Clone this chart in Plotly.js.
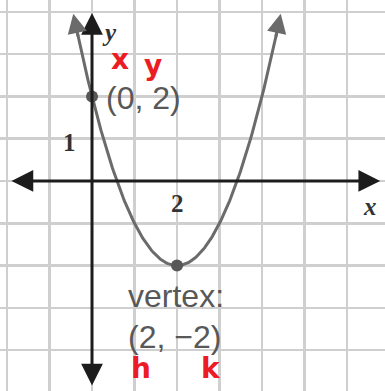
<!DOCTYPE html>
<html>
<head>
<meta charset="utf-8">
<script src="https://cdn.plot.ly/plotly-3.0.1.min.js"></script>
<style>
  html, body { margin: 0; padding: 0; background: #fff; }
  #chart { width: 385px; height: 391px; }
</style>
</head>
<body>
<div id="chart"></div>
<script>
// Parabola in vertex form y = a(x - h)^2 + k, given by its vertex and the y-intercept
const vertex = [2, -2];          // (h, k)
const yIntercept = [0, 2];       // (0, 2)
const curveEnds = [-0.44, 4.44]; // x where the arrowed ends of the curve stop
const tickValues = [1, 2];       // y tick "1", x tick "2"

// Visible extent of the grid / axes
const xRange = [-2.165, 6.894];
const yRange = [-4.965, 4.279];
const gridStart = [-2, 4];       // grid begins at x = -2 and ends at y = 4
const xAxisEnds = [-1.93, 6.78];
const yAxisEnds = [-4.87, 3.97];

const h = vertex[0], k = vertex[1];
const a = (yIntercept[1] - k) / Math.pow(yIntercept[0] - h, 2);
const f = x => a * (x - h) * (x - h) + k;

// sample the curve, leaving a little room for the arrowheads at both ends
const inset = 0.06;
const xs = [], ys = [];
const n = 200;
for (let i = 0; i <= n; i++) {
  const x = (curveEnds[0] + inset) + (curveEnds[1] - curveEnds[0] - 2 * inset) * i / n;
  xs.push(x);
  ys.push(f(x));
}

const curveColor = '#6b6b6b';
const axisColor = '#1c1c1c';
const grayText = '#585858';
const red = '#ec1c24';

const traces = [
  {
    x: xs, y: ys, type: 'scatter', mode: 'lines',
    line: { color: curveColor, width: 3 },
    hoverinfo: 'skip'
  },
  {
    x: [yIntercept[0], vertex[0]], y: [yIntercept[1], vertex[1]],
    type: 'scatter', mode: 'markers',
    marker: { color: '#585858', size: 12 },
    cliponaxis: false,
    hoverinfo: 'skip'
  }
];

function arrow(x, y, ax, ay, color, width, size, side) {
  return {
    x: x, y: y, ax: ax, ay: ay,
    xref: 'x', yref: 'y', axref: 'x', ayref: 'y',
    text: '', showarrow: true,
    arrowhead: 2, startarrowhead: 2,
    arrowside: side || 'end',
    arrowwidth: width, arrowsize: size, startarrowsize: size,
    arrowcolor: color
  };
}

function label(text, x, y, font) {
  return {
    text: text, x: x, y: y, xref: 'x', yref: 'y',
    showarrow: false, xanchor: 'center', yanchor: 'middle',
    font: font
  };
}

const serifItalic = { family: 'Liberation Serif, serif', size: 25, color: '#333', weight: 700 };
const serifNum = { family: 'Liberation Serif, serif', size: 25, color: '#333', weight: 700 };
const sans = { family: 'Liberation Sans, Arial, sans-serif', size: 32, color: grayText };
const hand = { family: 'DejaVu Sans, sans-serif', size: 28, color: red, weight: 700 };

const annotations = [
  // axes with arrowheads at both ends
  arrow(xAxisEnds[1], 0, xAxisEnds[0], 0, axisColor, 3, 1.45, 'end+start'),
  arrow(0, yAxisEnds[1], 0, yAxisEnds[0], axisColor, 3, 1.45, 'end+start'),
  // arrowheads on the ends of the parabola
  arrow(curveEnds[0], f(curveEnds[0]), curveEnds[0] + 0.12, f(curveEnds[0] + 0.12), curveColor, 3, 1.3),
  arrow(curveEnds[1], f(curveEnds[1]), curveEnds[1] - 0.12, f(curveEnds[1] - 0.12), curveColor, 3, 1.3),

  // axis letters and tick numbers
  label('<i>y</i>', 0.42, 3.52, serifItalic),
  label('<i>x</i>', 6.54, -0.6, serifItalic),
  label(String(tickValues[0]), -0.52, tickValues[0] - 0.08, serifNum),
  label(String(tickValues[1]), tickValues[1], -0.53, serifNum),

  // point labels
  label('(' + yIntercept[0] + ', ' + yIntercept[1] + ')', 1.21, 1.96, sans),
  label('vertex:', 1.97, -2.72, sans),
  label('(' + h + ', \u2212' + Math.abs(k) + ')', 1.95, -3.69, sans),

  // handwritten notes
  label('x', 0.66, 2.88, hand),
  label('y', 1.44, 2.74, hand),
  label('h', 1.15, -4.44, hand),
  label('k', 2.8, -4.44, hand)
];

const layout = {
  width: 385, height: 391,
  margin: { l: 0, r: 0, t: 0, b: 0 },
  paper_bgcolor: '#fff', plot_bgcolor: '#fff',
  showlegend: false,
  xaxis: {
    range: xRange, dtick: 1, tick0: 0,
    showgrid: true, gridcolor: '#cfcfcf', gridwidth: 2.5,
    zeroline: false, showticklabels: false, ticks: '', showline: false,
    fixedrange: true
  },
  yaxis: {
    range: yRange, dtick: 1, tick0: 0,
    showgrid: true, gridcolor: '#cfcfcf', gridwidth: 2.5,
    zeroline: false, showticklabels: false, ticks: '', showline: false,
    fixedrange: true
  },
  shapes: [
    // the grid stops at its outer left and top lines
    { type: 'rect', layer: 'between', xref: 'paper', yref: 'paper',
      x0: 0, x1: (gridStart[0] - 0.05 - xRange[0]) / (xRange[1] - xRange[0]), y0: 0, y1: 1,
      fillcolor: '#fff', line: { width: 0 } },
    { type: 'rect', layer: 'between', xref: 'paper', yref: 'paper',
      x0: 0, x1: 1, y0: (gridStart[1] + 0.06 - yRange[0]) / (yRange[1] - yRange[0]), y1: 1,
      fillcolor: '#fff', line: { width: 0 } }
  ],
  annotations: annotations
};

Plotly.newPlot('chart', traces, layout, { displayModeBar: false, staticPlot: true });
</script>
</body>
</html>
